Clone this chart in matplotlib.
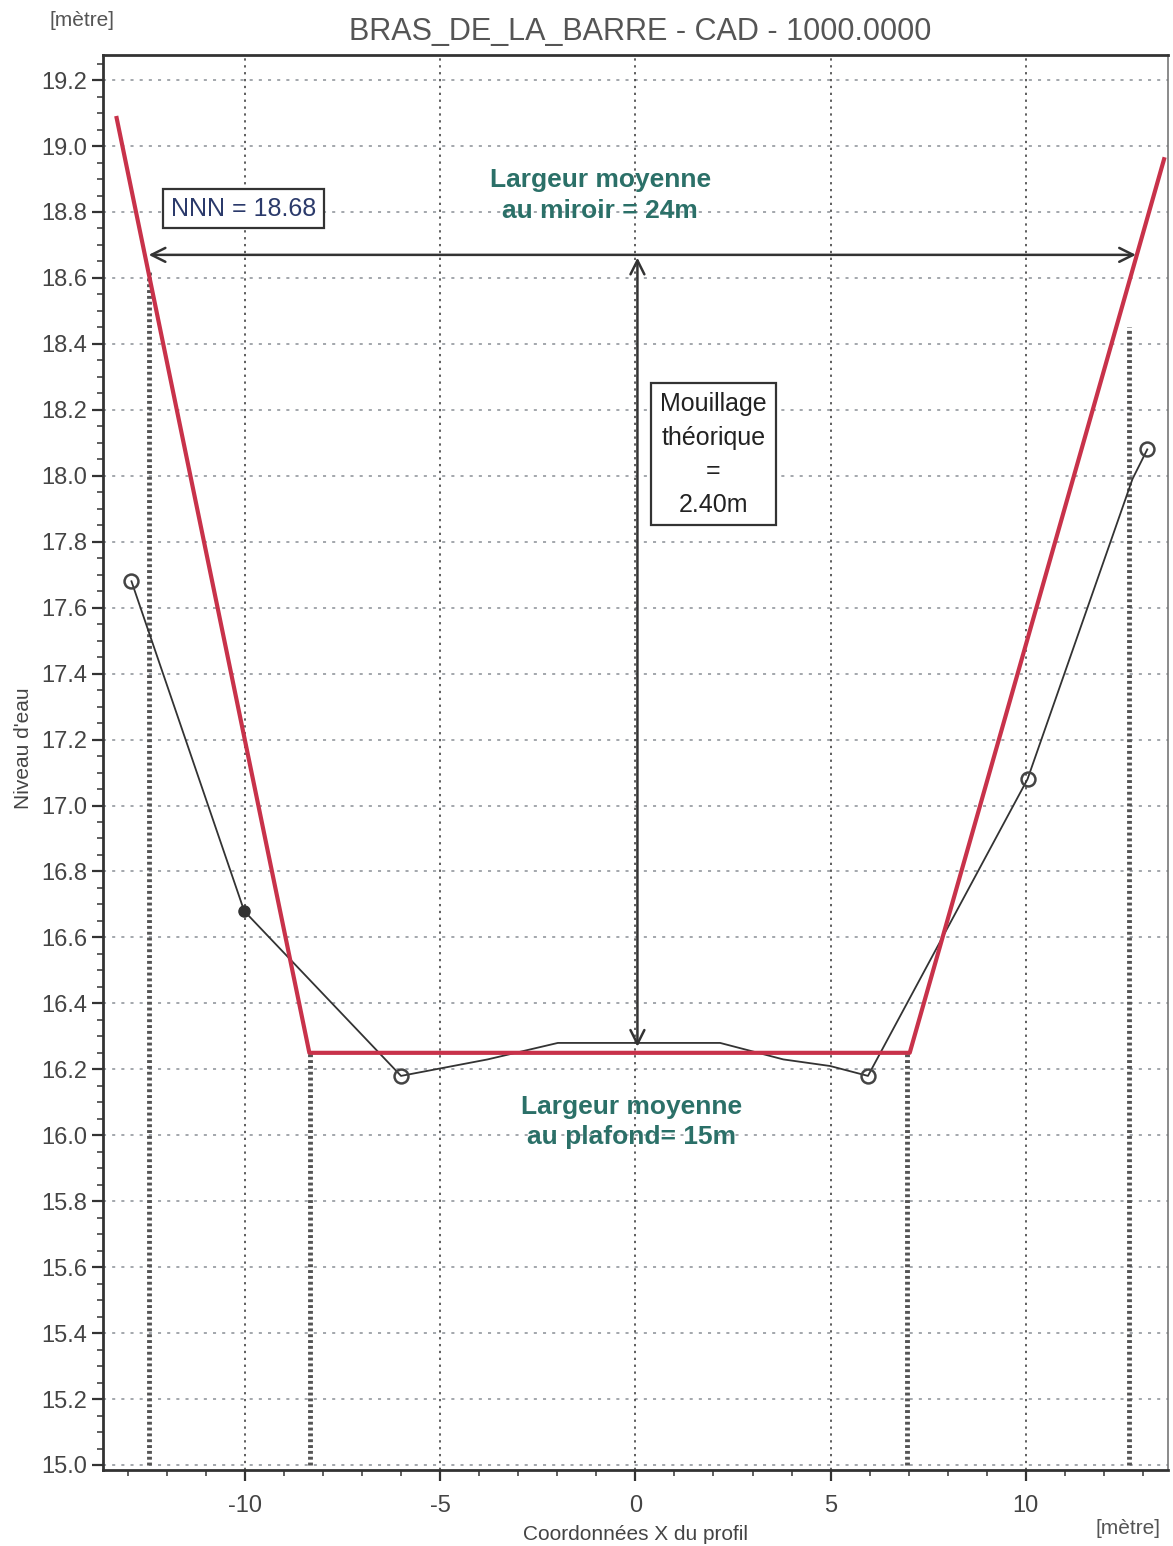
import matplotlib
matplotlib.use("Agg")
import matplotlib.pyplot as plt
import numpy as np
from matplotlib.ticker import MultipleLocator

plt.rcParams['font.family'] = ['Liberation Sans', 'DejaVu Sans']

# profil theorique (trapeze)
theo_x = [-13.30, -8.36, 7.03, 13.55]
theo_y = [19.085, 16.25, 16.25, 18.96]

# profil mesure
mes_x = [-12.92, -10.03, -6.01, -3.79, -1.99, 2.17, 3.79, 4.99, 5.96, 10.05, 12.74, 13.12]
mes_y = [17.68, 16.68, 16.18, 16.23, 16.28, 16.28, 16.23, 16.21, 16.18, 17.08, 17.99, 18.08]
ring_x = [-12.92, -6.01, 5.96, 10.05, 13.12]
ring_y = [17.68, 16.18, 16.18, 17.08, 18.08]
dot_x = [-10.03]
dot_y = [16.68]

nnn = 18.68
fond = 16.25
miroir = (-12.55, 12.9)
limites_haut = [(-12.48, 18.62), (12.66, 18.45)]
limites_bas = [-8.34, 6.96]

title = "BRAS_DE_LA_BARRE - CAD - 1000.0000"
teal = '#2b7068'

fig = plt.figure(figsize=(11.73, 15.46), dpi=100)
ax = fig.add_axes([0.0878, 0.0492, 0.9079, 0.9152])
ax.set_xlim(-13.65, 13.65)
ax.set_ylim(14.985, 19.276)

# grille
for yv in np.arange(15.0, 19.21, 0.2):
    ax.axhline(yv, color='#8a8f96', lw=1.1, ls=(0, (2, 4)), zorder=1)
for xv in [-10, -5, 0, 5, 10]:
    ax.axvline(xv, color='#333333', lw=1.1, ls=(0, (1.5, 3)), zorder=1)

# limites en pointilles serres
for xv, ytop in limites_haut:
    ax.plot([xv, xv], [15.0, ytop], color='#555555', lw=3.5, ls=(0, (0.6, 0.6)), zorder=2)
for xv in limites_bas:
    ax.plot([xv, xv], [15.0, fond], color='#555555', lw=3.5, ls=(0, (0.6, 0.6)), zorder=2)

# profils
ax.plot(mes_x, mes_y, color='#333333', lw=1.3, zorder=3)
ax.plot(ring_x, ring_y, 'o', ms=10, mfc='none', mec='#444444', mew=1.8, zorder=4)
ax.plot(dot_x, dot_y, 'o', ms=8, color='#333333', zorder=4)
ax.plot(theo_x, theo_y, color='#c8324a', lw=3, zorder=5)

# fleches
ax.annotate('', xy=(miroir[0], nnn - 0.01), xytext=(miroir[1], nnn - 0.01),
            arrowprops=dict(arrowstyle='<->', color='#333333', lw=1.8, mutation_scale=25), zorder=6)
ax.annotate('', xy=(0.05, nnn - 0.01), xytext=(0.05, fond + 0.01),
            arrowprops=dict(arrowstyle='<->', color='#333333', lw=1.8, mutation_scale=25), zorder=6)

# textes
ax.text(-10.05, 18.81, "NNN = 18.68", fontsize=18, color='#2b3a6b', ha='center', va='center',
        bbox=dict(boxstyle='square,pad=0.3', fc='white', ec='#333333', lw=1.6), zorder=7)
ax.text(-0.9, 18.85, "Largeur moyenne\nau miroir = 24m", fontsize=19, fontweight='bold',
        color=teal, ha='center', va='center', linespacing=1.35, zorder=7)
ax.text(2.0, 18.065, "Mouillage\nthéorique\n=\n2.40m", fontsize=18, color='#222222',
        ha='center', va='center', linespacing=1.5,
        bbox=dict(boxstyle='square,pad=0.35', fc='white', ec='#333333', lw=1.6), zorder=7)
ax.text(-0.1, 16.04, "Largeur moyenne\nau plafond= 15m", fontsize=19, fontweight='bold',
        color=teal, ha='center', va='center', linespacing=1.35, zorder=7)

# axes
ax.yaxis.set_major_locator(MultipleLocator(0.2))
ax.yaxis.set_minor_locator(MultipleLocator(0.05))
ax.xaxis.set_major_locator(MultipleLocator(5))
ax.xaxis.set_minor_locator(MultipleLocator(1))
ax.yaxis.set_major_formatter(lambda v, p: f"{v:.1f}")
ax.xaxis.set_major_formatter(lambda v, p: f"{v:.0f}")
ax.tick_params(axis='both', which='major', length=8, width=1.6, color='#333333',
               labelsize=17, labelcolor='#444444')
ax.tick_params(axis='both', which='minor', length=4, width=1.2, color='#444444')
ax.tick_params(axis='x', pad=10)
for s in ['left', 'bottom', 'top']:
    ax.spines[s].set_linewidth(2)
    ax.spines[s].set_color('#333333')
ax.spines['right'].set_linewidth(1.2)
ax.spines['right'].set_color('#777777')

ax.set_xlabel("Coordonnées X du profil", fontsize=15, color='#444444', labelpad=6)
ax.set_ylabel("Niveau d'eau", fontsize=15, color='#444444')
ax.yaxis.set_label_coords(-0.066, 0.51)
fig.text(0.0699, 0.987, "[mètre]", fontsize=15, color='#555555', ha='center', va='center')
fig.text(0.962, 0.011, "[mètre]", fontsize=15, color='#555555', ha='center', va='center')
fig.text(0.546, 0.979, title, fontsize=22, color='#555555', ha='center', va='center')

fig.savefig("out.png", dpi=100)
